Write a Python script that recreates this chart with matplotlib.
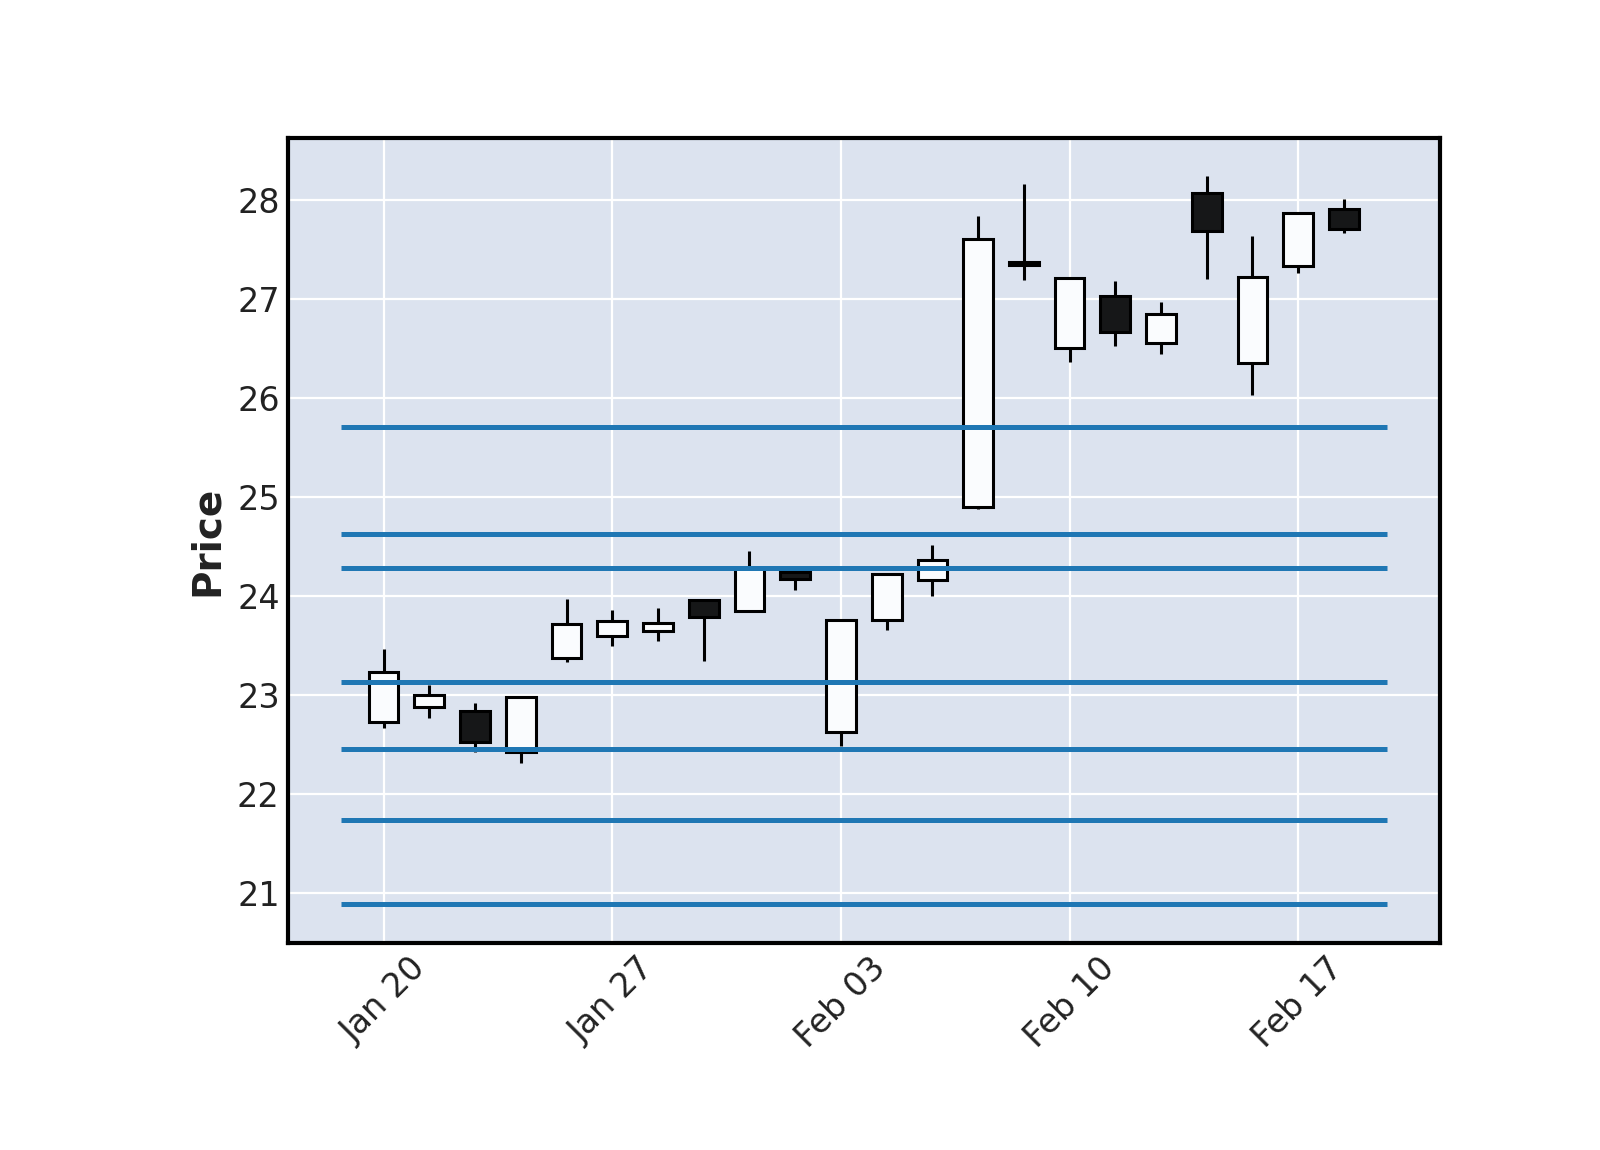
import matplotlib.pyplot as plt
import pandas as pd

# daily OHLC (trading days only)
dates = pd.to_datetime([
    '2020-01-20', '2020-01-21', '2020-01-22', '2020-01-23', '2020-01-24',
    '2020-01-27', '2020-01-28', '2020-01-29', '2020-01-30', '2020-01-31',
    '2020-02-03', '2020-02-04', '2020-02-05', '2020-02-06', '2020-02-07',
    '2020-02-10', '2020-02-11', '2020-02-12', '2020-02-13', '2020-02-14',
    '2020-02-17', '2020-02-18'])
opens = [22.72, 22.88, 22.84, 22.42, 23.37, 23.59, 23.64, 23.96, 23.85, 24.24, 22.62,
         23.76, 24.16, 24.90, 27.38, 26.51, 27.03, 26.56, 28.07, 26.35, 27.34, 27.91]
highs = [23.46, 23.10, 22.92, 22.98, 23.97, 23.86, 23.88, 23.96, 24.45, 24.25, 23.76,
         24.23, 24.51, 27.84, 28.16, 27.22, 27.18, 26.97, 28.25, 27.64, 27.87, 28.01]
lows = [22.66, 22.77, 22.42, 22.31, 23.33, 23.49, 23.54, 23.34, 23.85, 24.06, 22.48,
        23.65, 24.00, 24.88, 27.19, 26.37, 26.53, 26.45, 27.20, 26.03, 27.26, 27.67]
closes = [23.23, 23.00, 22.52, 22.98, 23.72, 23.75, 23.73, 23.79, 24.28, 24.17, 23.76,
          24.22, 24.36, 27.61, 27.35, 27.21, 26.67, 26.85, 27.69, 27.22, 27.87, 27.71]

# horizontal levels
levels = [25.71, 24.63, 24.28, 23.13, 22.45, 21.73, 20.88]

fig = plt.figure(figsize=(8, 5.75), dpi=200)
ax = fig.add_axes([0.18, 0.18, 0.72, 0.70])
ax.set_facecolor('#DCE3EF')
ax.grid(True, color='white', linewidth=0.8)
ax.set_axisbelow(True)

width = 0.65
for i in range(len(dates)):
    o, h, l, c = opens[i], highs[i], lows[i], closes[i]
    up = c >= o
    top, bot = max(o, c), min(o, c)
    # wicks above and below the body
    ax.vlines(i, top, h, color='k', linewidth=1.1, zorder=2)
    ax.vlines(i, l, bot, color='k', linewidth=1.1, zorder=2)
    ax.bar(i, top - bot, bottom=bot, width=width,
           color='#fafcfe' if up else '#161718', edgecolor='k',
           linewidth=1.1, zorder=3)

n = len(dates)
for lv in levels:
    ax.hlines(lv, -0.94, n - 1 + 0.94, color='#1f77b4', linewidth=1.8, zorder=4)

ax.set_xlim(-2.09, 23.1)
ax.set_ylim(20.49, 28.63)

tick_idx = list(range(0, n, 5))
ax.set_xticks(tick_idx)
ax.set_xticklabels([dates[i].strftime('%b %d') for i in tick_idx],
                   rotation=45, ha='center', fontsize=12, color='#222222')
ax.tick_params(axis='y', labelsize=12, labelcolor='#222222')
ax.tick_params(length=0, pad=3)

for s in ax.spines.values():
    s.set_linewidth(1.5)
    s.set_color('black')

ax.set_ylabel('Price', fontsize=14, fontweight='bold', color='#222222')

plt.savefig('out.png')
